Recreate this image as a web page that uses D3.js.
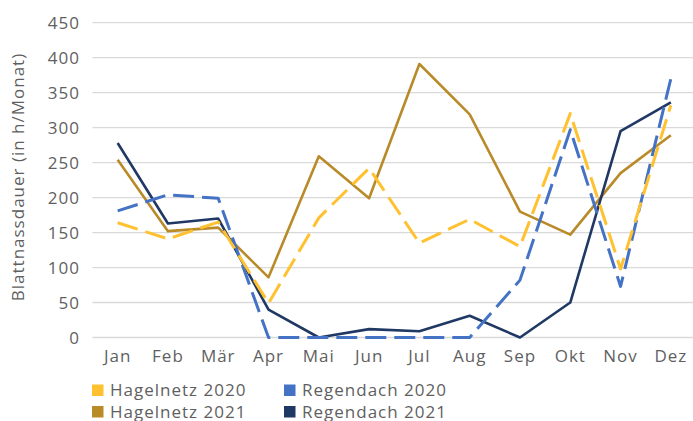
<!DOCTYPE html>
<html>
<head>
<meta charset="utf-8">
<script src="https://cdn.jsdelivr.net/npm/d3@7"></script>
<style>
body { margin: 0; background: #fff; }
text { font-family: "Open Sans", "DejaVu Sans", sans-serif; font-weight: 400; fill: #5f5f5f; letter-spacing: 1px; }
</style>
</head>
<body>
<script>
// chart data
var months = ["Jan","Feb","Mär","Apr","Mai","Jun","Jul","Aug","Sep","Okt","Nov","Dez"];
var yTicks = [0,50,100,150,200,250,300,350,400,450];
var hagel2020 = [164,141,165,49,171,242,135,169,130,320,98,332];
var regen2020 = [181,204,199,0,0,0,0,0,82,297,73,370];
var hagel2021 = [254,152,157,86,259,199,391,319,180,147,235,289];
var regen2021 = [278,163,170,40,0,12,9,31,0,50,295,336];

var series = [
    {name: "Hagelnetz 2020", values: hagel2020, color: "#FFC12F", dash: "21,8"},
    {name: "Regendach 2020", values: regen2020, color: "#4472C4", dash: "21,8"},
    {name: "Hagelnetz 2021", values: hagel2021, color: "#B98A28", dash: null},
    {name: "Regendach 2021", values: regen2021, color: "#203864", dash: null}
];

var W = 693, H = 421;
var margin = {top: 22.7, right: -3, bottom: 83.5, left: 92.5};

var svg = d3.select("body").append("svg")
    .attr("width", W)
    .attr("height", H);

var x = d3.scalePoint()
    .domain(months)
    .range([margin.left, W - margin.right])
    .padding(0.5);

var y = d3.scaleLinear()
    .domain([0, 450])
    .range([H - margin.bottom, margin.top]);

//gridlines
svg.append("g").selectAll("line")
    .data(yTicks)
    .enter()
    .append("line")
    .attr("x1", margin.left)
    .attr("x2", W)
    .attr("y1", function(d){return y(d)})
    .attr("y2", function(d){return y(d)})
    .style("stroke", "#d9d9d9")
    .style("stroke-width", 1.3);

//y tick labels
svg.append("g").selectAll("text")
    .data(yTicks)
    .enter()
    .append("text")
    .attr("x", 80)
    .attr("y", function(d){return y(d) + 6})
    .style("text-anchor", "end")
    .style("font-size", "17px")
    .text(function(d){return d});

//x tick labels
svg.append("g").selectAll("text")
    .data(months)
    .enter()
    .append("text")
    .attr("x", function(d){return x(d)})
    .attr("y", 362)
    .style("text-anchor", "middle")
    .style("font-size", "17px")
    .text(function(d){return d});

//y axis title
svg.append("text")
    .attr("transform", "translate(24,177) rotate(-90)")
    .style("text-anchor", "middle")
    .style("font-size", "17px")
    .text("Blattnassdauer (in h/Monat)");

var line = d3.line()
    .x(function(d, i){return x(months[i])})
    .y(function(d){return y(d)});

//draw solid lines first, dashed on top
var order = [series[2], series[3], series[1], series[0]];
svg.append("g").selectAll("path")
    .data(order)
    .enter()
    .append("path")
    .attr("d", function(d){return line(d.values)})
    .style("fill", "none")
    .style("stroke", function(d){return d.color})
    .style("stroke-width", function(d){return d.dash ? 3 : 2.6})
    .style("stroke-dasharray", function(d){return d.dash})
    .style("stroke-linejoin", "round");

//legend
var legend = svg.append("g").selectAll("g")
    .data(series)
    .enter()
    .append("g")
    .attr("transform", function(d, i){
        return "translate(" + (i % 2 == 0 ? 92 : 284) + "," + (i < 2 ? 390 : 411.5) + ")";
    });

legend.append("rect")
    .attr("x", 0)
    .attr("y", -5.5)
    .attr("width", 11.5)
    .attr("height", 11.5)
    .style("fill", function(d){return d.color});

legend.append("text")
    .attr("x", 18)
    .attr("y", 6)
    .style("font-size", "17px")
    .text(function(d){return d.name});
</script>
</body>
</html>
